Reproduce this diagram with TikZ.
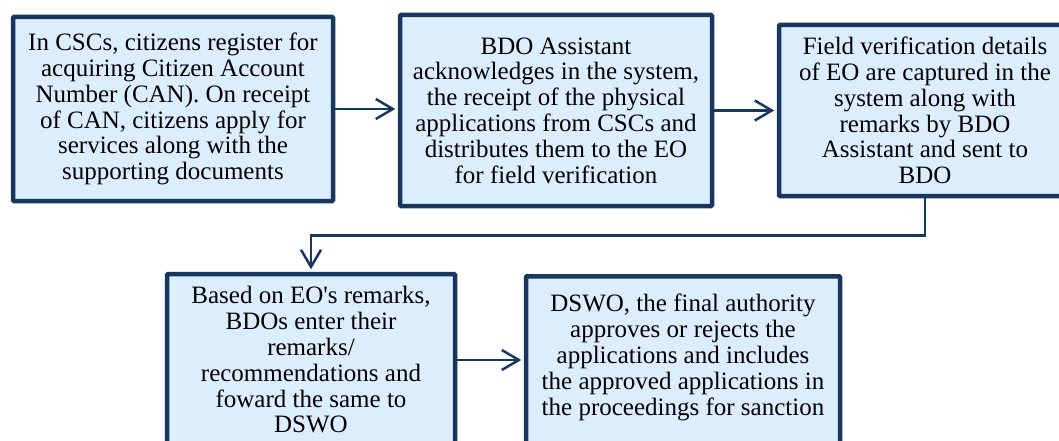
\documentclass[tikz,border=0pt]{standalone}
\usepackage{fontspec}
\setmainfont{Liberation Serif}
\usetikzlibrary{arrows.meta}
\definecolor{boxline}{HTML}{17375E}
\definecolor{boxfill}{HTML}{DCEDFD}
\tikzset{>={Straight Barb[length=17pt,width=20pt]}}
\tikzset{
  stepbox/.style={draw=boxline, fill=boxfill, line width=4.5pt, rounded corners=1pt,
    align=center, inner sep=0pt, font=\fontsize{25}{25.8}\selectfont},
  flow/.style={->, draw=boxline, line width=2.5pt, shorten >=2.5pt}
}

\begin{document}
\begin{tikzpicture}[x=1pt, y=-1pt]
  \useasboundingbox (0,0) rectangle (1059,441);
  \clip (0,0) rectangle (1059,441);

  % top row
  \node[stepbox, minimum width=320pt, minimum height=184pt] (csc) at (173,109)
    {In CSCs, citizens register for\\acquiring Citizen Account\\Number (CAN). On receipt\\of CAN, citizens apply for\\services along with the\\supporting documents};
  \node[stepbox, minimum width=312pt, minimum height=191pt] (bdoa) at (556,110.5)
    {BDO Assistant\\acknowledges in the system,\\the receipt of the physical\\applications from CSCs and\\distributes them to the EO\\for field verification};
  \node[stepbox, minimum width=292pt, minimum height=171pt] (field) at (925,110.5)
    {Field verification details\\of EO are captured in the\\system along with\\remarks by BDO\\Assistant and sent to\\BDO};

  % bottom row
  \node[stepbox, minimum width=288pt, minimum height=172pt] (bdo) at (311,360)
    {Based on EO\textquotesingle s remarks,\\BDOs enter their\\remarks/\\recommendations and\\foward the same to\\DSWO};
  \node[stepbox, minimum width=314pt, anchor=north, inner ysep=18pt, text depth=40pt] (dswo) at (683,274)
    {DSWO, the final authority\\approves or rejects the\\applications and includes\\the approved applications in\\the proceedings for sanction};

  % arrows
  \draw[flow] (csc.east) -- (csc.east -| bdoa.west);
  \draw[flow] (bdoa.east) -- (bdoa.east -| field.west);
  \draw[flow] (field.south) -- ++(0,37) -| (bdo.north);
  \draw[flow] (bdo.east) -- (bdo.east -| dswo.west);
\end{tikzpicture}
\end{document}
